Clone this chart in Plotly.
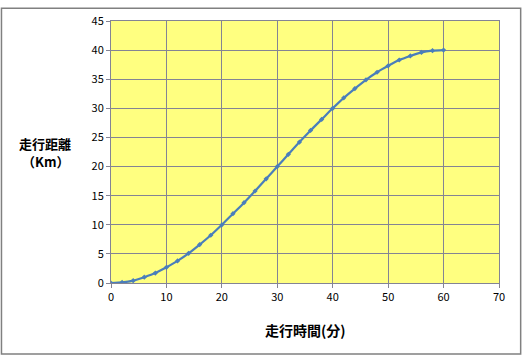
import plotly.graph_objects as go

# 走行時間(分) and 走行距離(Km)
time_min = [0, 2, 4, 6, 8, 10, 12, 14, 16, 18, 20, 22, 24, 26, 28, 30,
            32, 34, 36, 38, 40, 42, 44, 46, 48, 50, 52, 54, 56, 58, 60]
distance_km = [0.0, 0.1, 0.4, 1.0, 1.7, 2.7, 3.8, 5.1, 6.6, 8.2, 10.0, 11.9, 13.8, 15.8, 17.9, 20.0,
               22.1, 24.2, 26.2, 28.1, 30.0, 31.8, 33.4, 34.9, 36.2, 37.3, 38.3, 39.0, 39.6, 39.9, 40.0]

x_ticks = [0, 10, 20, 30, 40, 50, 60, 70]
y_ticks = [0, 5, 10, 15, 20, 25, 30, 35, 40, 45]

W, H = 523, 358
ML, MR, MT, MB = 110.7, 23.7, 15.0, 74.7
PW, PH = W - ML - MR, H - MT - MB

grid = "#848494"
font_fam = "Noto Sans CJK JP"
ytitle_font = dict(family=font_fam, size=13, color="#000000")

fig = go.Figure()
fig.add_trace(go.Scatter(
    x=time_min, y=distance_km, mode="lines+markers",
    line=dict(color="#4a7ebb", width=2.2, shape="spline", smoothing=0.6),
    marker=dict(symbol="diamond", size=4, color="#4a7ebb"),
    showlegend=False, hoverinfo="skip"))

axis_common = dict(showgrid=True, gridcolor=grid, gridwidth=1,
                   showline=True, linecolor=grid, linewidth=1, mirror=True,
                   ticks="outside", ticklen=4, tickcolor=grid, zeroline=False,
                   tickfont=dict(family=font_fam, size=11, color="#000000"))

fig.update_layout(
    width=W, height=H,
    margin=dict(l=ML, r=MR, t=MT, b=MB),
    paper_bgcolor="#ffffff", plot_bgcolor="#ffff80",
    xaxis=dict(range=[0, 70], tickvals=x_ticks, **axis_common),
    yaxis=dict(range=[0, 45], tickvals=y_ticks, **axis_common),
    annotations=[
        dict(text="<b>走行時間(分)</b>", xref="paper", yref="paper",
             x=0.5, y=(H - MB - 331) / PH, xanchor="center", yanchor="middle",
             showarrow=False, font=dict(family=font_fam, size=14, color="#000000")),
        dict(text="<b>走行距離</b>", xref="paper", yref="paper",
             x=(45 - ML) / PW, y=(H - MB - 140) / PH, xanchor="center", yanchor="middle",
             showarrow=False, font=ytitle_font),
        dict(text="<b>（Km）</b>", xref="paper", yref="paper",
             x=(45 - ML) / PW, y=(H - MB - 158.5) / PH, xanchor="center", yanchor="middle",
             showarrow=False, font=ytitle_font),
    ],
    shapes=[dict(type="rect", xref="paper", yref="paper",
                 x0=(1 - ML) / PW, x1=(521 - ML) / PW,
                 y0=(H - MB - 356) / PH, y1=(H - MB - 2) / PH,
                 line=dict(color="#808080", width=1.5), fillcolor="rgba(0,0,0,0)",
                 layer="below")],
)

fig.write_html("out.html")
